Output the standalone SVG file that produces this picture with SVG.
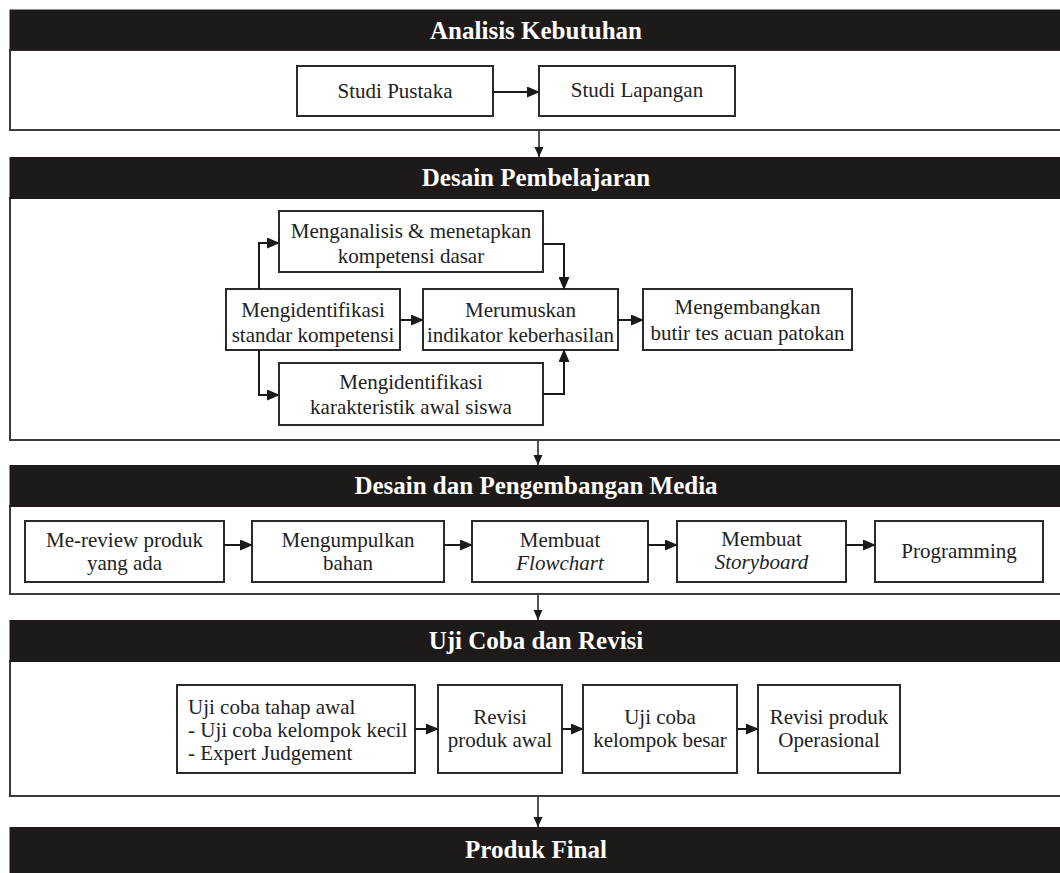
<svg xmlns="http://www.w3.org/2000/svg" width="1060" height="873" viewBox="0 0 1060 873">
<style>
.hdr{fill:#1e1a19}
.hdrt{font-family:'Liberation Serif','Times New Roman',Times,'Nimbus Roman','DejaVu Serif',serif;font-weight:bold;font-size:25px;fill:#ffffff;text-anchor:middle}
.frame{fill:#ffffff;stroke:#3a3a3a;stroke-width:2}
.box{fill:#ffffff;stroke:#2b2b2b;stroke-width:2}
.t{font-family:'Liberation Serif','Times New Roman',Times,'Nimbus Roman','DejaVu Serif',serif;font-size:21px;fill:#222222;text-anchor:middle}
.tl{font-family:'Liberation Serif','Times New Roman',Times,'Nimbus Roman','DejaVu Serif',serif;font-size:21px;fill:#222222;text-anchor:start}
.it{font-style:italic}
.c{fill:none;stroke:#1a1a1a;stroke-width:2}
.cd{fill:none;stroke:#1a1a1a;stroke-width:1.5}
</style>
<defs>
<marker id="ah" markerUnits="userSpaceOnUse" markerWidth="13" markerHeight="11" refX="12" refY="5.5" orient="auto">
<path d="M0,0 L13,5.5 L0,11 z" fill="#1a1a1a"/>
</marker>
<marker id="ahs" markerUnits="userSpaceOnUse" markerWidth="10" markerHeight="10" refX="10" refY="4.5" orient="auto">
<path d="M0,0 L10,4.5 L0,9 z" fill="#1a1a1a"/>
</marker>
</defs>
<rect width="1060" height="873" fill="#ffffff"/>

<!-- Section 1 -->
<g id="section-analisis">
<rect class="frame" x="10" y="50" width="1065" height="80"/>
<rect class="hdr" x="9.5" y="9.5" width="1060" height="41"/>
<text class="hdrt" x="536" y="39">Analisis Kebutuhan</text>
</g>
<g id="node-studi-pustaka">
<rect class="box" x="297" y="66" width="196" height="50"/>
<text class="t" x="395" y="98">Studi Pustaka</text>
</g>
<g id="node-studi-lapangan">
<rect class="box" x="539" y="66" width="196" height="50"/>
<text class="t" x="637" y="97">Studi Lapangan</text>
</g>

<!-- Section 2 -->
<g id="section-desain-pembelajaran">
<rect class="frame" x="10" y="198" width="1065" height="242"/>
<rect class="hdr" x="9.5" y="157" width="1060" height="42"/>
<text class="hdrt" x="536" y="186">Desain Pembelajaran</text>
</g>
<g id="node-menganalisis">
<rect class="box" x="279" y="211" width="264" height="61"/>
<text class="t" x="411" y="238">Menganalisis &amp; menetapkan</text>
<text class="t" x="411" y="263">kompetensi dasar</text>
</g>
<g id="node-standar">
<rect class="box" x="226" y="289" width="174" height="61"/>
<text class="t" x="313" y="317">Mengidentifikasi</text>
<text class="t" x="313" y="342">standar kompetensi</text>
</g>
<g id="node-merumuskan">
<rect class="box" x="423" y="289" width="195" height="61"/>
<text class="t" x="520.5" y="317">Merumuskan</text>
<text class="t" x="520.5" y="342">indikator keberhasilan</text>
</g>
<g id="node-mengembangkan">
<rect class="box" x="643" y="289" width="209" height="61"/>
<text class="t" x="747.5" y="314">Mengembangkan</text>
<text class="t" x="747.5" y="340">butir tes acuan patokan</text>
</g>
<g id="node-karakteristik">
<rect class="box" x="279" y="363" width="264" height="62"/>
<text class="t" x="411" y="389">Mengidentifikasi</text>
<text class="t" x="411" y="414">karakteristik awal siswa</text>
</g>

<!-- Section 3 -->
<g id="section-media">
<rect class="frame" x="10" y="506" width="1065" height="88"/>
<rect class="hdr" x="9.5" y="465" width="1060" height="42"/>
<text class="hdrt" x="536" y="494">Desain dan Pengembangan Media</text>
</g>
<g id="node-mereview">
<rect class="box" x="25" y="521" width="199" height="61"/>
<text class="t" x="124.5" y="547">Me-review produk</text>
<text class="t" x="124.5" y="570">yang ada</text>
</g>
<g id="node-mengumpulkan">
<rect class="box" x="252" y="521" width="192" height="61"/>
<text class="t" x="348" y="547">Mengumpulkan</text>
<text class="t" x="348" y="570">bahan</text>
</g>
<g id="node-flowchart">
<rect class="box" x="472" y="521" width="176" height="61"/>
<text class="t" x="560" y="547">Membuat</text>
<text class="t it" x="560" y="570">Flowchart</text>
</g>
<g id="node-storyboard">
<rect class="box" x="677" y="521" width="169" height="61"/>
<text class="t" x="761.5" y="546">Membuat</text>
<text class="t it" x="761.5" y="569">Storyboard</text>
</g>
<g id="node-programming">
<rect class="box" x="875" y="521" width="168" height="61"/>
<text class="t" x="959" y="558">Programming</text>
</g>

<!-- Section 4 -->
<g id="section-uji-coba">
<rect class="frame" x="10" y="661" width="1065" height="135"/>
<rect class="hdr" x="9.5" y="620" width="1060" height="42"/>
<text class="hdrt" x="536" y="649">Uji Coba dan Revisi</text>
</g>
<g id="node-uji-awal">
<rect class="box" x="177" y="685" width="238" height="88"/>
<text class="tl" x="188" y="714">Uji coba tahap awal</text>
<text class="tl" x="188" y="737">- Uji coba kelompok kecil</text>
<text class="tl" x="188" y="760">- Expert Judgement</text>
</g>
<g id="node-revisi-awal">
<rect class="box" x="438" y="685" width="124" height="88"/>
<text class="t" x="500" y="724">Revisi</text>
<text class="t" x="500" y="747">produk awal</text>
</g>
<g id="node-uji-besar">
<rect class="box" x="583" y="685" width="154" height="88"/>
<text class="t" x="660" y="724">Uji coba</text>
<text class="t" x="660" y="747">kelompok besar</text>
</g>
<g id="node-revisi-operasional">
<rect class="box" x="758" y="685" width="142" height="88"/>
<text class="t" x="829" y="724">Revisi produk</text>
<text class="t" x="829" y="747">Operasional</text>
</g>

<!-- Section 5 -->
<g id="section-produk-final">
<rect class="hdr" x="9.5" y="827" width="1060" height="50"/>
<text class="hdrt" x="536" y="858">Produk Final</text>
</g>

<!-- Connectors -->
<g id="connectors">
<path class="c" d="M493,92 H539" marker-end="url(#ah)"/>
<path class="cd" d="M539,131 V157" marker-end="url(#ahs)"/>
<path class="c" d="M259,289 V243 H279" marker-end="url(#ah)"/>
<path class="c" d="M259,350 V395 H279" marker-end="url(#ah)"/>
<path class="c" d="M543,244 H564 V289" marker-end="url(#ah)"/>
<path class="c" d="M543,394 H564 V350" marker-end="url(#ah)"/>
<path class="c" d="M400,320 H423" marker-end="url(#ah)"/>
<path class="c" d="M618,320 H643" marker-end="url(#ah)"/>
<path class="cd" d="M538,441 V465" marker-end="url(#ahs)"/>
<path class="c" d="M224,545 H252" marker-end="url(#ah)"/>
<path class="c" d="M444,545 H472" marker-end="url(#ah)"/>
<path class="c" d="M648,545 H677" marker-end="url(#ah)"/>
<path class="c" d="M846,545 H875" marker-end="url(#ah)"/>
<path class="cd" d="M538,595 V620" marker-end="url(#ahs)"/>
<path class="c" d="M415,729 H438" marker-end="url(#ah)"/>
<path class="c" d="M562,729 H583" marker-end="url(#ah)"/>
<path class="c" d="M737,729 H758" marker-end="url(#ah)"/>
<path class="cd" d="M538,797 V827" marker-end="url(#ahs)"/>
</g>
</svg>
